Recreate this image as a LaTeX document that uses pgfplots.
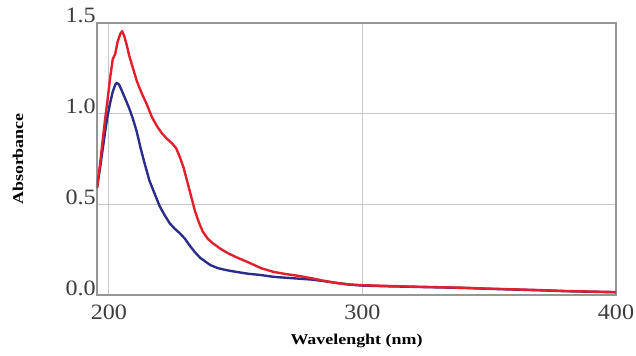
\documentclass[border=0pt]{standalone}
\usepackage{pgfplots}
\pgfplotsset{compat=1.18}
\usepackage{fontspec}
\setmainfont{Liberation Serif}
\newfontfamily\tickfont[FakeStretch=1.1]{Liberation Serif}
\newfontfamily\labfont[FakeStretch=1.2]{Liberation Serif}
\definecolor{redline}{RGB}{226,32,44}
\definecolor{blueline}{RGB}{44,44,140}
\definecolor{gridc}{RGB}{200,200,200}
\definecolor{framec}{RGB}{150,150,150}
\definecolor{tickc}{RGB}{60,60,60}
\begin{document}
\begin{tikzpicture}
\path[use as bounding box] (-97bp,-61bp) rectangle (539bp,295bp);
\begin{axis}[
  at={(0,0)}, anchor=south west,
  scale only axis, width=519bp, height=272bp,
  xmin=195.3, xmax=400, ymin=0, ymax=1.5,
  xtick={200,300,400}, ytick={0,0.5,1.0,1.5},
  xticklabels={200,300,400},
  yticklabels={0.0,0.5,1.0,1.5},
  major tick length=0pt,
  grid=major,
  major grid style={gridc, line width=0.9pt},
  axis line style={framec, line width=1.2pt},
  tick label style={font=\tickfont\fontsize{22}{22}\selectfont, text=tickc},
  yticklabel style={anchor=base east, xshift=-1bp, inner sep=0pt},
  xticklabel style={anchor=north, yshift=-10bp, inner sep=0pt},
  xlabel={\labfont\bfseries\fontsize{15}{15}\selectfont Wavelenght (nm)},
  ylabel={\labfont\bfseries\fontsize{15}{15}\selectfont Absorbance},
  xlabel style={at={(axis description cs:0.5,-0.169)}, anchor=center},
  ylabel style={at={(axis description cs:-0.152,0.5)}, anchor=center, rotate=0},
  clip=true,
]
\addplot[blueline, line width=2.4pt, line join=round] coordinates {
(195.3,0.59) (196.5,0.70) (197.5,0.80) (198.5,0.90) (199.5,0.99) (200.5,1.06)
(201.5,1.12) (202.5,1.16) (203.2,1.17) (204,1.16) (205,1.13) (206.5,1.08)
(208,1.03) (209.5,0.97) (211,0.90) (212.5,0.81) (214,0.73) (216,0.63)
(218,0.56) (220,0.49) (222,0.44) (224,0.395) (226,0.365) (228,0.34)
(230,0.31) (232,0.27) (234,0.235) (236,0.205) (238,0.185) (240,0.165)
(243,0.148) (246,0.138) (250,0.128) (255,0.117) (260,0.110) (265,0.100)
(270,0.095) (275,0.090) (280,0.085) (285,0.076) (290,0.066) (295,0.057)
(300,0.052) (310,0.048) (320,0.045) (330,0.042) (340,0.039) (350,0.034)
(360,0.030) (370,0.026) (380,0.021) (390,0.018) (400,0.015)
};
\addplot[redline, line width=2.4pt, line join=round] coordinates {
(195.3,0.59) (196.5,0.72) (197.5,0.85) (198.5,0.97) (199.5,1.08) (200.5,1.20)
(201.5,1.30) (202.5,1.33) (203.5,1.40) (204.5,1.44) (205.2,1.455) (206,1.43)
(207,1.38) (208,1.32) (209.5,1.25) (211,1.18) (213,1.11) (215,1.05)
(217,0.98) (219,0.93) (221,0.89) (223,0.86) (225,0.835) (226.5,0.81)
(228,0.76) (229.5,0.70) (231,0.62) (232.5,0.54) (234,0.46) (235.5,0.40)
(237,0.35) (239,0.31) (241,0.285) (244,0.255) (247,0.23) (250,0.21)
(255,0.18) (260,0.148) (265,0.127) (270,0.115) (275,0.105) (280,0.092)
(285,0.078) (290,0.066) (295,0.058) (300,0.054) (310,0.050) (320,0.046)
(330,0.043) (340,0.040) (350,0.035) (360,0.031) (370,0.027) (380,0.022)
(390,0.019) (400,0.016)
};
\end{axis}
\end{tikzpicture}
\end{document}
